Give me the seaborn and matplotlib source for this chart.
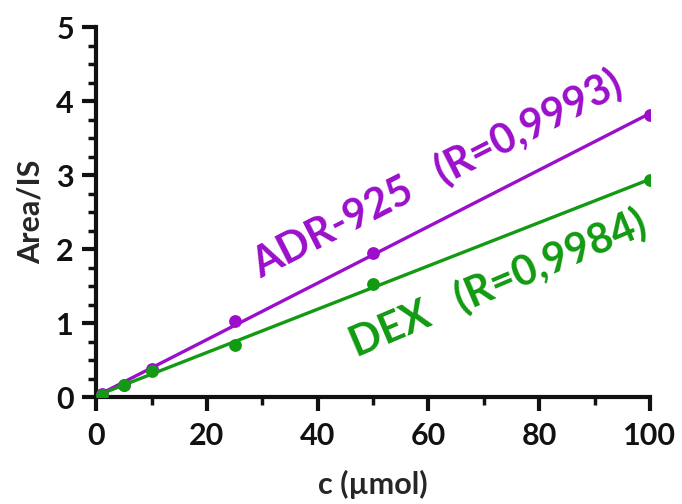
import matplotlib
matplotlib.use("Agg")
import matplotlib.pyplot as plt
import seaborn as sns
import numpy as np
from matplotlib.ticker import MultipleLocator

sns.set_style("ticks")
plt.rcParams['font.family'] = ['Lato', 'DejaVu Sans']

conc = [1, 5, 10, 25, 50, 100]
adr_area = [0.04, 0.17, 0.38, 1.03, 1.95, 3.81]
dex_area = [0.03, 0.16, 0.35, 0.70, 1.53, 2.93]

purple = "#9b0fcb"
green = "#129a12"

fig = plt.figure(figsize=(6.82, 5.04), dpi=100)
ax = fig.add_axes([0.141, 0.212, 0.812, 0.734])

for yvals, col in [(adr_area, purple), (dex_area, green)]:
    sns.regplot(x=conc, y=yvals, ax=ax, ci=None, color=col,
                scatter_kws={"s": 85, "alpha": 1, "linewidths": 0, "zorder": 3},
                line_kws={"lw": 2.4})

ax.set_xlim(0, 100)
ax.set_ylim(0, 5)
ax.xaxis.set_major_locator(MultipleLocator(20))
ax.xaxis.set_minor_locator(MultipleLocator(10))
ax.yaxis.set_major_locator(MultipleLocator(1))
ax.yaxis.set_minor_locator(MultipleLocator(0.25))

for s in ["top", "right"]:
    ax.spines[s].set_visible(False)
for s in ["left", "bottom"]:
    ax.spines[s].set_linewidth(3)
    ax.spines[s].set_color("#111111")

ax.tick_params(which="major", length=10, width=3, colors="#111111",
               labelsize=22, pad=6)
ax.tick_params(axis="x", which="major", pad=8)
ax.tick_params(which="minor", length=6, width=2.5, colors="#111111")
for lab in ax.get_xticklabels() + ax.get_yticklabels():
    lab.set_fontweight("bold")

ax.set_xlabel("c (µmol)", fontsize=22, fontweight="bold", labelpad=14)
ax.set_ylabel("Area/IS", fontsize=22, fontweight="bold", labelpad=8)

ax.text(61.5, 3.02, "ADR-925   (R=0,9993)", color=purple, fontsize=30,
        fontweight="bold", rotation=27, ha="center", va="center",
        rotation_mode="anchor")
ax.text(72.5, 1.55, "DEX   (R=0,9984)", color=green, fontsize=30,
        fontweight="bold", rotation=23, ha="center", va="center",
        rotation_mode="anchor")

fig.savefig("out.png", dpi=100)
